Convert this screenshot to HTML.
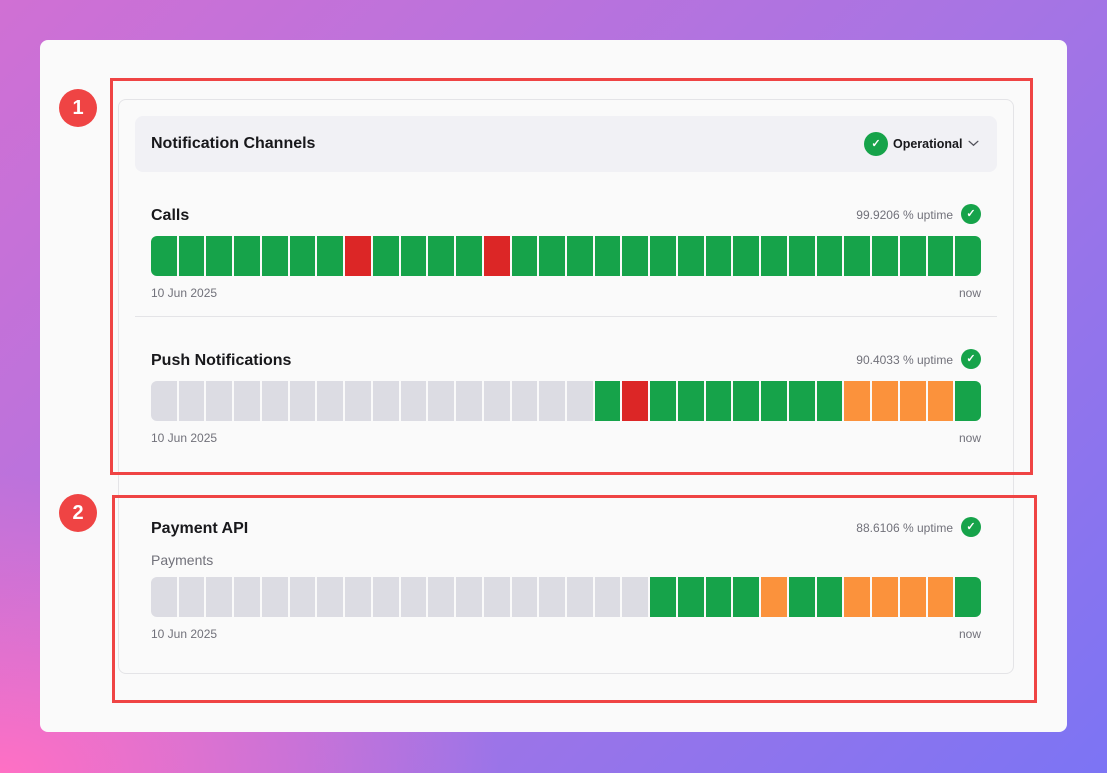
<!DOCTYPE html><html><head><style>
*{margin:0;padding:0;box-sizing:border-box}
body{width:1107px;height:773px;overflow:hidden;position:relative;font-family:"Liberation Sans",sans-serif;background:linear-gradient(135deg,#d070d4 0%,#a674e4 55%,#7c74f4 100%)}
.pinkfade{position:absolute;left:0;top:0;width:1107px;height:773px;background:radial-gradient(ellipse 500px 300px at 0% 100%,#ff70c4,rgba(255,112,196,0))}
.abs{position:absolute}
.card{left:40px;top:40px;width:1027px;height:692px;background:#fafafa;border-radius:8px}
.inner{left:118px;top:99px;width:896px;height:575px;border:1px solid #e4e4e7;border-radius:8px}
.hdr{left:135px;top:116px;width:862px;height:56px;background:#f1f1f5;border-radius:8px}
.t{color:#18181b;font-weight:bold;font-size:16px}
.s{color:#71717a;font-size:12px}
.chk{width:20px;height:20px;border-radius:50%;background:#16a34a;color:#fff;font-size:11px;text-align:center;line-height:20px;font-weight:bold}
.seg{position:absolute;height:40px}
.rb{border:3px solid #ef4444}
.num{width:38px;height:38px;border-radius:50%;background:#ef4444;color:#fff;font-weight:bold;font-size:20px;text-align:center;line-height:38px}
</style></head><body>
<div class="pinkfade"></div>
<div class="abs card"></div>
<div class="abs inner"></div>
<div class="abs hdr"></div>
<div class="abs t" style="left:151px;top:135px">Notification Channels</div>
<div class="abs chk" style="left:864px;top:132px;width:24px;height:24px;line-height:24px">✓</div>
<div class="abs" style="left:893px;top:137px;font-size:12.5px;font-weight:bold;color:#18181b">Operational</div>
<svg class="abs" style="left:968px;top:140px" width="11" height="7" viewBox="0 0 12 8"><path d="M1 1.5 L6 6 L11 1.5" fill="none" stroke="#52525b" stroke-width="1.5" stroke-linecap="round"/></svg>
<div class="abs" style="left:135px;top:316px;width:862px;height:1px;background:#e4e4e7"></div>

<div class="abs t" style="left:151px;top:207px">Calls</div>
<div class="abs s" style="left:820px;top:208px;width:133px;text-align:right">99.9206 % uptime</div>
<div class="abs chk" style="left:961px;top:204px">✓</div>
<div class="abs s" style="left:151px;top:286px">10 Jun 2025</div>
<div class="abs s" style="left:930px;top:286px;width:51px;text-align:right">now</div>

<div class="abs t" style="left:151px;top:352px">Push Notifications</div>
<div class="abs s" style="left:820px;top:353px;width:133px;text-align:right">90.4033 % uptime</div>
<div class="abs chk" style="left:961px;top:349px">✓</div>
<div class="abs s" style="left:151px;top:431px">10 Jun 2025</div>
<div class="abs s" style="left:930px;top:431px;width:51px;text-align:right">now</div>

<div class="abs t" style="left:151px;top:520px">Payment API</div>
<div class="abs" style="left:151px;top:552px;font-size:14px;color:#71717a">Payments</div>
<div class="abs s" style="left:820px;top:521px;width:133px;text-align:right">88.6106 % uptime</div>
<div class="abs chk" style="left:961px;top:517px">✓</div>
<div class="abs s" style="left:151px;top:627px">10 Jun 2025</div>
<div class="abs s" style="left:930px;top:627px;width:51px;text-align:right">now</div>

<div id="bars"></div>
<div class="abs rb" style="left:110px;top:78px;width:923px;height:397px"></div>
<div class="abs rb" style="left:112px;top:495px;width:925px;height:208px"></div>
<div class="abs num" style="left:59px;top:89px">1</div>
<div class="abs num" style="left:59px;top:494px">2</div>
<script>
var G='#16a34a',R='#dc2626',O='#fb923c',Y='#dcdce3';
function row(top,cols){var h='';for(var i=0;i<30;i++){var l=151+i*27.733,w=25.733;var r=i==0?'border-radius:6px 0 0 6px;':(i==29?'border-radius:0 6px 6px 0;':'');h+='<div class="seg" style="left:'+l.toFixed(2)+'px;top:'+top+'px;width:'+w.toFixed(2)+'px;background:'+cols[i]+';'+r+'"></div>';}return h;}
var a=[],b=[],c=[];
for(var i=0;i<30;i++){a.push(i==7||i==12?R:G);
b.push(i<16?Y:(i==17?R:(i>=25&&i<=28?O:G)));
c.push(i<18?Y:(i==22||(i>=25&&i<=28)?O:G));}
document.getElementById('bars').innerHTML=row(236,a)+row(381,b)+row(577,c);
</script>
</body></html>
